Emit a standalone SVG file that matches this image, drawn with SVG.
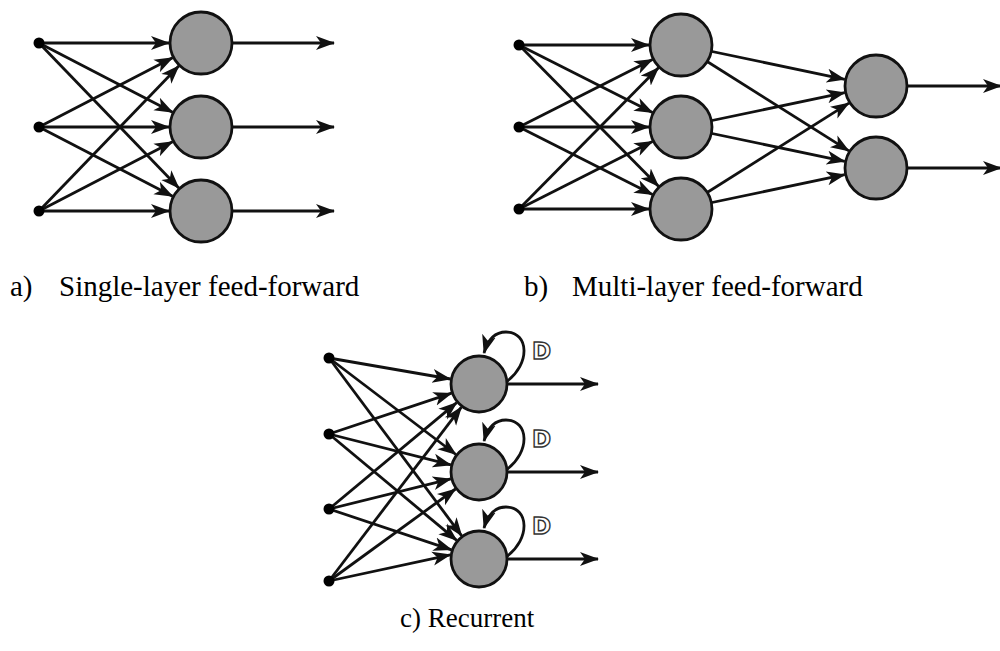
<svg xmlns="http://www.w3.org/2000/svg" width="1000" height="651" viewBox="0 0 1000 651">
<style>
.c{stroke:#111;stroke-width:2.8;fill:none;marker-end:url(#ah)}
.n{fill:#999;stroke:#111;stroke-width:2.8}
.d{fill:#000}
.lbl{font-family:"Liberation Serif","Times New Roman",serif;font-size:29px;fill:#000}
.D{font-family:"DejaVu Sans","Liberation Sans",sans-serif;font-weight:bold;font-size:23px;fill:#fff;stroke:#333;stroke-width:1.4}
</style>
<defs>
<marker id="ah" markerWidth="22" markerHeight="16" refX="18" refY="8" orient="auto" markerUnits="userSpaceOnUse">
<path d="M0,1 L19,8 L0,15 L5,8 z" fill="#111"/>
</marker>
</defs>
<rect width="1000" height="651" fill="#fff"/>
<g id="connectors">
<line class="c" x1="39" y1="43" x2="169" y2="43"/>
<line class="c" x1="39" y1="43" x2="172.6" y2="112.3"/>
<line class="c" x1="39" y1="43" x2="178.8" y2="188"/>
<line class="c" x1="39" y1="127" x2="172.6" y2="57.7"/>
<line class="c" x1="39" y1="127" x2="169" y2="127"/>
<line class="c" x1="39" y1="127" x2="172.6" y2="196.3"/>
<line class="c" x1="39" y1="211" x2="178.8" y2="66"/>
<line class="c" x1="39" y1="211" x2="172.6" y2="141.7"/>
<line class="c" x1="39" y1="211" x2="169" y2="211"/>
<line class="c" x1="232" y1="43" x2="334" y2="43"/>
<line class="c" x1="232" y1="127" x2="334" y2="127"/>
<line class="c" x1="232" y1="211" x2="334" y2="211"/>
<line class="c" x1="519" y1="45" x2="649" y2="45"/>
<line class="c" x1="519" y1="45" x2="652.5" y2="112.6"/>
<line class="c" x1="519" y1="45" x2="658.5" y2="186.2"/>
<line class="c" x1="519" y1="127" x2="652.5" y2="59.4"/>
<line class="c" x1="519" y1="127" x2="649" y2="127"/>
<line class="c" x1="519" y1="127" x2="652.5" y2="194.6"/>
<line class="c" x1="519" y1="209" x2="658.5" y2="67.8"/>
<line class="c" x1="519" y1="209" x2="652.5" y2="141.4"/>
<line class="c" x1="519" y1="209" x2="649" y2="209"/>
<line class="c" x1="681" y1="45" x2="844.7" y2="79.4"/>
<line class="c" x1="681" y1="45" x2="848.9" y2="150.9"/>
<line class="c" x1="681" y1="127" x2="844.7" y2="92.6"/>
<line class="c" x1="681" y1="127" x2="844.7" y2="161.4"/>
<line class="c" x1="681" y1="209" x2="848.9" y2="103.1"/>
<line class="c" x1="681" y1="209" x2="844.7" y2="174.6"/>
<line class="c" x1="907" y1="86" x2="1001" y2="86"/>
<line class="c" x1="907" y1="168" x2="1001" y2="168"/>
<line class="c" x1="329" y1="358" x2="450.4" y2="379"/>
<line class="c" x1="329" y1="358" x2="455.9" y2="454.5"/>
<line class="c" x1="329" y1="358" x2="461.7" y2="535.8"/>
<line class="c" x1="329" y1="434" x2="451.5" y2="393.2"/>
<line class="c" x1="329" y1="434" x2="450.9" y2="464.9"/>
<line class="c" x1="329" y1="434" x2="456.7" y2="540.4"/>
<line class="c" x1="329" y1="509" x2="456.7" y2="402.6"/>
<line class="c" x1="329" y1="509" x2="450.8" y2="478.9"/>
<line class="c" x1="329" y1="509" x2="451.5" y2="549.8"/>
<line class="c" x1="329" y1="581" x2="461.4" y2="407.1"/>
<line class="c" x1="329" y1="581" x2="455.5" y2="489"/>
<line class="c" x1="329" y1="581" x2="450.3" y2="554.8"/>
<line class="c" x1="507" y1="384" x2="598" y2="384"/>
<line class="c" x1="507" y1="472" x2="598" y2="472"/>
<line class="c" x1="507" y1="559" x2="598" y2="559"/>
<path class="c" d="M506,382 C531,364 529,332 506,332 C495,332 488,339 484,353"/>
<path class="c" d="M506,470 C531,452 529,420 506,420 C495,420 488,427 484,441"/>
<path class="c" d="M506,557 C531,539 529,507 506,507 C495,507 488,514 484,528"/>
</g>
<g id="inputs-a"><circle class="d" cx="39" cy="43" r="5.5"/><circle class="d" cx="39" cy="127" r="5.5"/><circle class="d" cx="39" cy="211" r="5.5"/></g>
<g id="a-n1"><circle class="n" cx="201" cy="43" r="31"/></g>
<g id="a-n2"><circle class="n" cx="201" cy="127" r="31"/></g>
<g id="a-n3"><circle class="n" cx="201" cy="211" r="31"/></g>
<g id="inputs-b"><circle class="d" cx="519" cy="45" r="5.5"/><circle class="d" cx="519" cy="127" r="5.5"/><circle class="d" cx="519" cy="209" r="5.5"/></g>
<g id="b-h1"><circle class="n" cx="681" cy="45" r="31"/></g>
<g id="b-h2"><circle class="n" cx="681" cy="127" r="31"/></g>
<g id="b-h3"><circle class="n" cx="681" cy="209" r="31"/></g>
<g id="b-o1"><circle class="n" cx="876" cy="86" r="31"/></g>
<g id="b-o2"><circle class="n" cx="876" cy="168" r="31"/></g>
<g id="inputs-c"><circle class="d" cx="329" cy="358" r="5.5"/><circle class="d" cx="329" cy="434" r="5.5"/><circle class="d" cx="329" cy="509" r="5.5"/><circle class="d" cx="329" cy="581" r="5.5"/></g>
<g id="c-n1"><circle class="n" cx="479" cy="384" r="28"/><text class="D" x="532" y="359">D</text></g>
<g id="c-n2"><circle class="n" cx="479" cy="472" r="28"/><text class="D" x="532" y="447">D</text></g>
<g id="c-n3"><circle class="n" cx="479" cy="559" r="28"/><text class="D" x="532" y="534">D</text></g>
<g id="labels">
<text class="lbl" x="10" y="296" font-family="Liberation Serif, serif">a)</text>
<text class="lbl" x="59" y="296" font-family="Liberation Serif, serif">Single-layer feed-forward</text>
<text class="lbl" x="524" y="296" font-family="Liberation Serif, serif">b)</text>
<text class="lbl" x="572" y="296" font-family="Liberation Serif, serif">Multi-layer feed-forward</text>
<text class="lbl" x="400" y="627" font-family="Liberation Serif, serif" style="font-size:27px">c) Recurrent</text>
</g>
</svg>
